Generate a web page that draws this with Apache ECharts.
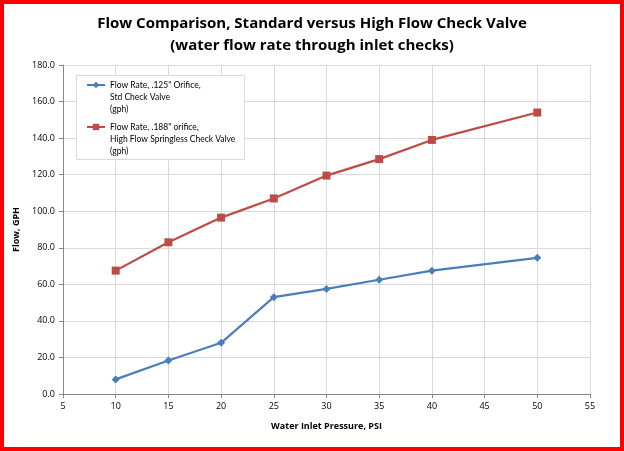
<!DOCTYPE html>
<html><head><meta charset="utf-8">
<script src="https://cdn.jsdelivr.net/npm/echarts@6/dist/echarts.min.js"></script>
<style>html,body{margin:0;padding:0;background:#fff}#c{width:624px;height:451px;box-sizing:border-box;border:4px solid #ff0000}</style>
</head><body><div id="c"></div>
<script>
const pressure = [10, 15, 20, 25, 30, 35, 40, 50];
const stdFlow = [8.0, 18.3, 28.0, 53.0, 57.5, 62.5, 67.5, 74.5];
const highFlow = [67.5, 83.0, 96.5, 107.0, 119.5, 128.5, 139.0, 154.0];
const seriesNames = ['Flow Rate, .125" Orifice,\nStd Check Valve\n(gph)', 'Flow Rate, .188" orifice,\nHigh Flow Springless Check Valve\n(gph)'];
const font = 'Open Sans, Liberation Sans, sans-serif';
const legendFont = 'Lato, Open Sans, sans-serif';
const chart = echarts.init(document.getElementById('c'), null, {renderer: 'canvas'});
chart.setOption({
  animation: false,
  title: {
    text: 'Flow Comparison, Standard versus High Flow Check Valve\n(water flow rate through inlet checks)',
    left: 'center', top: 4,
    textStyle: {fontFamily: font, fontSize: 15, fontWeight: 'bold', color: '#000', lineHeight: 22}
  },
  graphic: [{
    type: 'rect', left: 72, top: 71, z: 3,
    shape: {width: 168, height: 84},
    style: {fill: '#fff', stroke: '#d9d9d9', lineWidth: 1}
  }],
  legend: {
    orient: 'vertical', left: 82, top: 51, z: 4,
    padding: 0, itemGap: -18, itemWidth: 18, itemHeight: 8,
    formatter: name => '{pad| }\n' + name.split('\n').map(s => '{t|' + s + '}').join('\n'),
    textStyle: {
      fontFamily: legendFont, fontSize: 8.5, color: '#000',
      rich: {
        pad: {height: 24, lineHeight: 24, fontSize: 8.5},
        t: {fontFamily: legendFont, fontSize: 8.5, color: '#000', lineHeight: 12, height: 12}
      }
    },
    data: [{name: seriesNames[0]}, {name: seriesNames[1]}]
  },
  grid: {left: 59, right: 30, top: 61, bottom: 53},
  xAxis: {
    type: 'value', min: 5, max: 55, interval: 5,
    name: 'Water Inlet Pressure, PSI', nameLocation: 'middle', nameGap: 28,
    nameTextStyle: {fontFamily: font, fontSize: 9, fontWeight: 'bold', color: '#000'},
    axisLine: {lineStyle: {color: '#868686'}},
    axisTick: {show: true, lineStyle: {color: '#868686'}, length: 4},
    axisLabel: {fontFamily: font, fontSize: 9, color: '#000', margin: 8},
    splitLine: {show: true, lineStyle: {color: '#d9d9d9'}}
  },
  yAxis: {
    type: 'value', min: 0, max: 180, interval: 20,
    name: 'Flow, GPH', nameLocation: 'middle', nameGap: 34, nameRotate: 90,
    nameTextStyle: {fontFamily: font, fontSize: 9, fontWeight: 'bold', color: '#000'},
    axisLine: {show: true, lineStyle: {color: '#868686'}},
    axisTick: {show: true, lineStyle: {color: '#868686'}, length: 4},
    axisLabel: {fontFamily: font, fontSize: 9, color: '#000', formatter: v => v.toFixed(1)},
    splitLine: {show: true, lineStyle: {color: '#d9d9d9'}}
  },
  series: [
    {name: seriesNames[0], type: 'line', data: pressure.map((x, i) => [x, stdFlow[i]]),
     symbol: 'diamond', symbolSize: 8, color: '#4a7ebb', lineStyle: {width: 2.2, color: '#4a7ebb'}, itemStyle: {color: '#4a7ebb'}},
    {name: seriesNames[1], type: 'line', data: pressure.map((x, i) => [x, highFlow[i]]),
     symbol: 'rect', symbolSize: 8, color: '#be4b48', lineStyle: {width: 2.2, color: '#be4b48'}, itemStyle: {color: '#be4b48'}}
  ]
});
</script></body></html>
